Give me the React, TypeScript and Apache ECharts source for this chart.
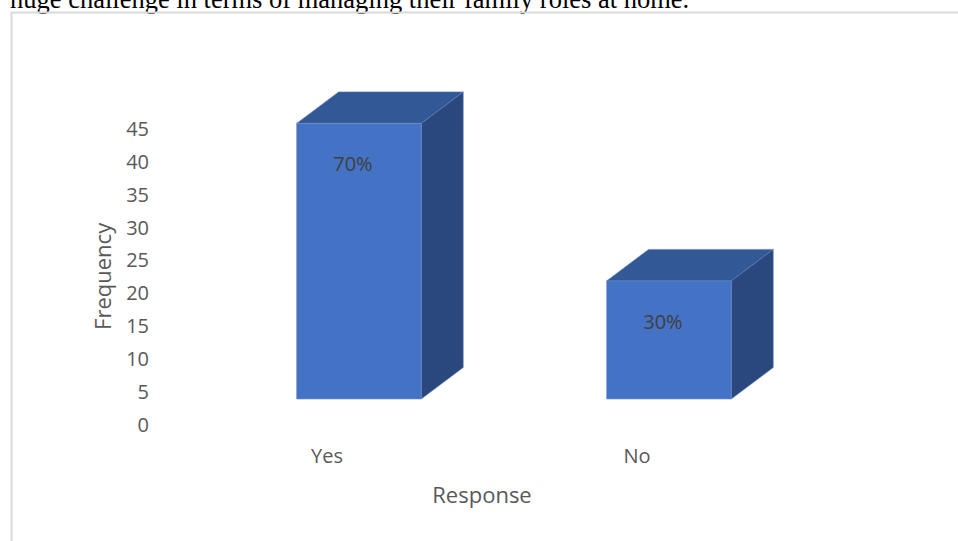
import React, { useEffect, useRef } from "react";
import * as echarts from "echarts";

// ---- data ----
const categories = ["Yes", "No"];
const frequencies = [42, 18];
const percentLabels = ["70%", "30%"];
const yMin = 0;
const yMax = 45;
const yInterval = 5;
const captionText = "huge challenge in terms of managing their family roles at home.";
const xAxisName = "Response";
const yAxisName = "Frequency";

const FRONT = "#4472C4";
const TOP = "#335896";
const SIDE = "#2A487E";

export default function App() {
  const ref = useRef<HTMLDivElement>(null);

  useEffect(() => {
    if (!ref.current) return;
    const chart = echarts.init(ref.current, undefined, { renderer: "svg" });

    const renderItem = (params: any, api: any) => {
      const idx = api.value(0);
      const val = api.value(1);
      const base = api.coord([idx, 0]);
      const top = api.coord([idx, val]);
      const band = api.size([1, 0])[0];
      const w = band * 0.402;
      const shiftX = band * 0.103;
      const lift = 25;
      const dx = 42;
      const dy = -31.5;
      const x0 = base[0] + shiftX - w / 2;
      const x1 = x0 + w;
      const yb = base[1] - lift;
      const yt = top[1] - lift;
      return {
        type: "group",
        children: [
          {
            type: "polygon",
            shape: { points: [[x0, yt], [x0 + dx, yt + dy], [x1 + dx, yt + dy], [x1, yt]] },
            style: { fill: TOP, stroke: "#5a7fc0", lineWidth: 0.6 },
          },
          {
            type: "polygon",
            shape: { points: [[x1, yt], [x1 + dx, yt + dy], [x1 + dx, yb + dy], [x1, yb]] },
            style: { fill: SIDE, stroke: "#5a7fc0", lineWidth: 0.6 },
          },
          {
            type: "polygon",
            shape: { points: [[x0, yt], [x1, yt], [x1, yb], [x0, yb]] },
            style: { fill: FRONT, stroke: "#6d8fd0", lineWidth: 0.6 },
          },
          {
            type: "text",
            style: {
              text: percentLabels[idx],
              x: x0 + w / 2 - 6,
              y: yt + 40.5,
              align: "center",
              verticalAlign: "middle",
              fill: "#404040",
              fontSize: 20,
              fontFamily: "Open Sans",
            },
          },
        ],
      };
    };

    chart.setOption({
      animation: false,
      backgroundColor: "#ffffff",
      graphic: [
        {
          type: "text",
          x: 10,
          y: -15,
          style: {
            text: captionText,
            fill: "#000000",
            fontSize: 26.5,
            fontFamily: "Liberation Serif",
            verticalAlign: "top",
            align: "left",
          },
        },
        {
          type: "rect",
          shape: { x: 11.5, y: 12.5, width: 960, height: 540 },
          style: { fill: "none", stroke: "#d9d9d9", lineWidth: 2 },
        },
      ],
      grid: { left: 172, top: 128.7, width: 620, height: 295.3 },
      xAxis: {
        type: "category",
        data: categories,
        boundaryGap: true,
        axisLine: { show: false },
        axisTick: { show: false },
        splitLine: { show: false },
        axisLabel: {
          margin: 21,
          color: "#595959",
          fontSize: 20,
          fontFamily: "Open Sans",
        },
        name: xAxisName,
        nameLocation: "middle",
        nameGap: 59,
        nameTextStyle: { color: "#595959", fontSize: 22, fontFamily: "Open Sans" },
      },
      yAxis: {
        type: "value",
        min: yMin,
        max: yMax,
        interval: yInterval,
        axisLine: { show: false },
        axisTick: { show: false },
        splitLine: { show: false },
        axisLabel: {
          margin: 23,
          color: "#595959",
          fontSize: 20,
          fontFamily: "Open Sans",
        },
        name: yAxisName,
        nameLocation: "middle",
        nameGap: 59,
        nameTextStyle: { color: "#595959", fontSize: 22, fontFamily: "Open Sans" },
      },
      series: [
        {
          type: "custom",
          renderItem,
          encode: { x: 0, y: 1 },
          data: categories.map((c, i) => [i, frequencies[i]]),
        },
      ],
    });

    return () => chart.dispose();
  }, []);

  return (
    <div
      ref={ref}
      style={{ position: "absolute", left: 0, top: 0, width: 958, height: 541 }}
    />
  );
}
